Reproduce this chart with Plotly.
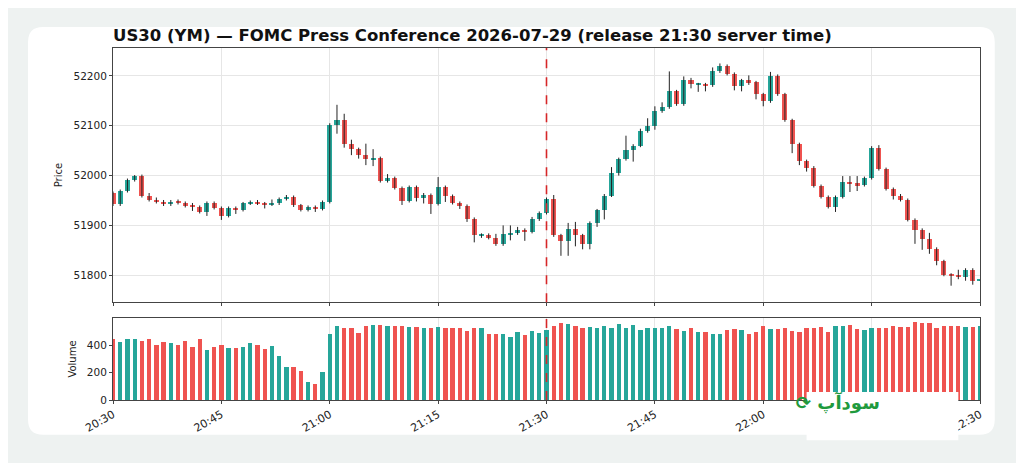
import plotly.graph_objects as go
import pandas as pd

start = "2026-07-29 20:30"
first_open = 51965
closes = [51942,51969,51991,51999,51959,51951,51947,51942,51947,51945,
51939,51937,51927,51945,51935,51919,51935,51931,51944,51947,
51944,51942,51944,51953,51957,51940,51931,51937,51933,51947,
52102,52112,52064,52053,52042,52033,52035,51989,51995,51975,
51949,51977,51956,51961,51943,51977,51959,51945,51939,51913,
51880,51881,51875,51862,51882,51884,51891,51887,51912,51925,
51953,51880,51869,51893,51880,51862,51905,51930,51960,52005,
52033,52052,52060,52089,52100,52129,52137,52169,52143,52191,
52183,52183,52181,52209,52220,52204,52179,52191,52187,52163,
52149,52200,52163,52111,52063,52029,52016,51979,51957,51937,
51957,51987,51985,51981,51995,52056,52013,51973,51960,51951,
51911,51891,51873,51853,51828,51801,51799,51797,51811,51789,
51790]
upper_wick = [3,3,3,2,3,6,5,4,4,5, 3,6,3,3,3,3,3,3,3,3, 4,3,8,3,4,3,3,3,3,3,
3,30,12,8,3,22,18,3,8,3, 3,3,3,4,3,20,3,3,3,3, 3,3,3,8,18,16,6,3,5,3,
3,8,3,12,14,3,3,3,3,12, 3,28,3,5,15,10,10,40,3,8, 5,3,3,8,5,3,3,3,10,3,
3,8,3,3,3,3,3,3,3,3, 3,12,12,14,3,3,5,3,3,3, 3,3,3,12,3,3,3,12,3,3, 0]
lower_wick = [3,3,3,3,3,3,3,3,3,3, 3,8,3,8,3,8,3,8,3,3, 3,8,3,3,3,3,3,3,6,3,
3,18,8,12,8,12,14,3,3,3, 8,3,8,12,20,3,12,3,6,6, 14,5,3,3,3,12,3,18,3,3,
3,3,30,30,22,10,10,8,18,3, 5,3,24,3,3,8,3,3,3,3, 8,15,12,3,3,3,8,10,5,10,
10,3,3,3,18,8,8,3,3,3, 10,3,18,12,3,3,3,3,8,3, 3,28,22,10,8,3,20,5,8,8, 0]
volumes = [445,425,450,450,430,450,400,425,420,400, 435,390,445,365,385,405,380,380,385,420,
400,375,395,325,240,245,215,130,115,205, 480,540,530,530,490,540,550,550,540,545,
540,535,535,530,530,535,525,525,530,505, 525,530,485,480,485,460,495,475,505,490,
510,540,565,555,540,530,535,525,545,530, 555,530,550,515,530,530,525,540,520,505,
525,495,500,485,480,510,520,510,485,500, 545,520,520,530,505,500,530,530,535,495,
540,540,550,520,515,525,525,530,540,535, 535,570,565,565,530,545,545,545,535,535, 540]
title = "US30 (YM) — FOMC Press Conference 2026-07-29 (release 21:30 server time)"
release = "2026-07-29 21:30"
price_ticks = [51800, 51900, 52000, 52100, 52200]
vol_ticks = [0, 200, 400]

GREEN, RED = "#26a69a", "#ef5350"
times = pd.date_range(start, periods=len(closes), freq="1min")
opens = [first_open] + closes[:-1]
tops = [max(o, c) for o, c in zip(opens, closes)]
bots = [min(o, c) for o, c in zip(opens, closes)]
highs = [t + u for t, u in zip(tops, upper_wick)]
lows = [b - l for b, l in zip(bots, lower_wick)]
cols = [GREEN if c >= o else RED for o, c in zip(opens, closes)]

wx, wy = [], []
for t, h, l in zip(times, highs, lows):
    wx += [t, t, None]; wy += [l, h, None]

fig = go.Figure()
fig.add_trace(go.Scatter(x=wx, y=wy, mode="lines", line=dict(color="#222", width=1),
                         xaxis="x", yaxis="y", hoverinfo="skip"))
fig.add_trace(go.Bar(x=times, y=[max(t - b, 1.5) for t, b in zip(tops, bots)], base=bots,
                     marker=dict(color=cols, line=dict(width=0)), width=60000*0.7,
                     xaxis="x", yaxis="y"))
fig.add_trace(go.Bar(x=times, y=volumes, marker=dict(color=cols, line=dict(width=0)),
                     width=60000*0.6, xaxis="x2", yaxis="y2"))

xr = [pd.Timestamp("2026-07-29 20:30"), pd.Timestamp("2026-07-29 22:30")]
ax_common = dict(range=xr, showgrid=True, gridcolor="#e6e6e6", linecolor="#444", mirror=True,
                 showline=True, dtick=15*60000, tick0="2026-07-29 20:30", zeroline=False)
fig.update_layout(
    width=1016, height=455, margin=dict(l=105, r=44, t=40, b=63),
    paper_bgcolor="#eef2f1", plot_bgcolor="white", showlegend=False, bargap=0,
    font=dict(family="DejaVu Sans", size=10.5, color="#222"),
    title=dict(text="<b>"+title+"</b>", x=105/1016, xanchor="left", y=1-27/455, yanchor="middle",
               font=dict(size=16.5, color="#111")),
    xaxis=dict(**ax_common, domain=[0, 1], anchor="y", showticklabels=False, ticks="outside", ticklen=3),
    yaxis=dict(domain=[0.278, 1], range=[51746, 52256], tickvals=price_ticks, tickformat="d", showgrid=True,
               gridcolor="#e6e6e6", linecolor="#444", mirror=True, showline=True, ticks="outside",
               ticklen=3, zeroline=False, title=dict(text="Price", font=dict(size=10), standoff=8)),
    xaxis2=dict(**ax_common, domain=[0, 1], anchor="y2", tickformat="%H:%M", tickangle=-30,
                ticks="outside", ticklen=3, tickfont=dict(size=11)),
    yaxis2=dict(domain=[0, 0.233], range=[0, 600], tickvals=vol_ticks, showgrid=False,
                linecolor="#444", mirror=True, showline=True, ticks="outside", ticklen=3,
                zeroline=False, title=dict(text="Volume", font=dict(size=10), standoff=8)),
)
x0, x1, y0, y1 = -0.098, 1.017, -0.099, 1.06
rx, ry = 15/867, 15/352
path = (f"M{x0+rx},{y0} L{x1-rx},{y0} Q{x1},{y0} {x1},{y0+ry} L{x1},{y1-ry} Q{x1},{y1} {x1-rx},{y1} "
        f"L{x0+rx},{y1} Q{x0},{y1} {x0},{y1-ry} L{x0},{y0+ry} Q{x0},{y0} {x0+rx},{y0} Z")
fig.add_shape(type="path", path=path, xref="paper", yref="paper", fillcolor="white",
              line=dict(width=0), layer="below")
for yr in ["y", "y2"]:
    fig.add_shape(type="line", x0=release, x1=release, y0=0, y1=1, xref="x" if yr == "y" else "x2",
                  yref=f"{yr} domain", line=dict(color="#d62728", width=1.6, dash="dash"))
fig.add_shape(type="rect", xref="paper", yref="paper", x0=0.80, x1=0.975, y0=-0.114, y1=0.023,
              fillcolor="white", line=dict(width=0))
fig.add_annotation(xref="paper", yref="paper", x=0.8875, y=-0.045, text="<b>⟳ سودآپ</b>",
                   showarrow=False, font=dict(size=18, color="#1f9a3e", family="DejaVu Sans"))
fig.write_html("out.html")
